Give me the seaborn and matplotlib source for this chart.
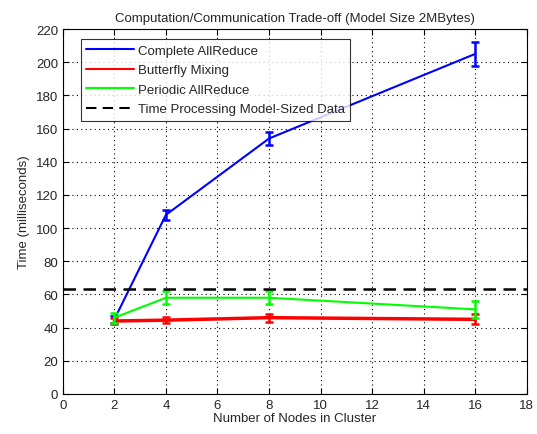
import matplotlib
matplotlib.use("Agg")
import matplotlib.pyplot as plt
import seaborn as sns
import pandas as pd
import numpy as np

nodes = [2, 4, 8, 16]
complete_mean = [45, 108, 154, 205]
complete_err = [2, 3, 4, 7]
butterfly_mean = [44, 44.5, 46, 45]
butterfly_err = [2, 2, 2.5, 3]
periodic_mean = [46, 58, 58, 51]
periodic_err = [3, 4, 4, 5]
processing_time = 63

sns.set_style("white")
plt.rcParams['font.family'] = ['Liberation Sans', 'DejaVu Sans']

fig = plt.figure(figsize=(5.37, 4.35), dpi=100)
ax = fig.add_axes([0.117, 0.092, 0.864, 0.839])

series = [
    ("Complete AllReduce", complete_mean, complete_err, "#0000ff", 1.5),
    ("Butterfly Mixing", butterfly_mean, butterfly_err, "#ff0000", 2.5),
    ("Periodic AllReduce", periodic_mean, periodic_err, "#00ff00", 1.5),
]
for name, m, e, c, lw in series:
    df = pd.DataFrame({"x": nodes, "y": m})
    sns.lineplot(data=df, x="x", y="y", ax=ax, color=c, lw=lw, label=name)
    ax.errorbar(nodes, m, yerr=e, fmt="none", ecolor=c, elinewidth=1.8, capsize=3, capthick=1.8)

ax.axhline(processing_time, color="black", ls=(0, (5, 3)), lw=1.8, label="Time Processing Model-Sized Data")

ax.set_xlim(0, 18)
ax.set_ylim(0, 220)
ax.set_xticks(range(0, 19, 2))
ax.set_yticks(range(0, 221, 20))
ax.grid(True, color="black", ls=(0, (1, 3)), lw=0.8)
for s in ax.spines.values():
    s.set_color("black")
    s.set_linewidth(0.8)
ax.tick_params(axis="both", direction="in", length=4, labelsize=9.5, color="black", top=True, right=True, left=True, bottom=True)
ax.set_xlabel("Number of Nodes in Cluster", fontsize=9.5, labelpad=1)
ax.set_ylabel("Time (milliseconds)", fontsize=9.5)
ax.set_title("Computation/Communication Trade-off (Model Size 2MBytes)", fontsize=9.5, pad=6)

leg = ax.legend(loc="upper left", bbox_to_anchor=(0.025, 0.99), fontsize=9.5, frameon=True, fancybox=False,
                edgecolor="black", borderpad=0.4, labelspacing=0.55, handlelength=3.6, handletextpad=0.3)
leg.get_frame().set_linewidth(0.8)
for h in leg.get_lines():
    h.set_linewidth(1.5)

fig.savefig("out.png", dpi=100)
